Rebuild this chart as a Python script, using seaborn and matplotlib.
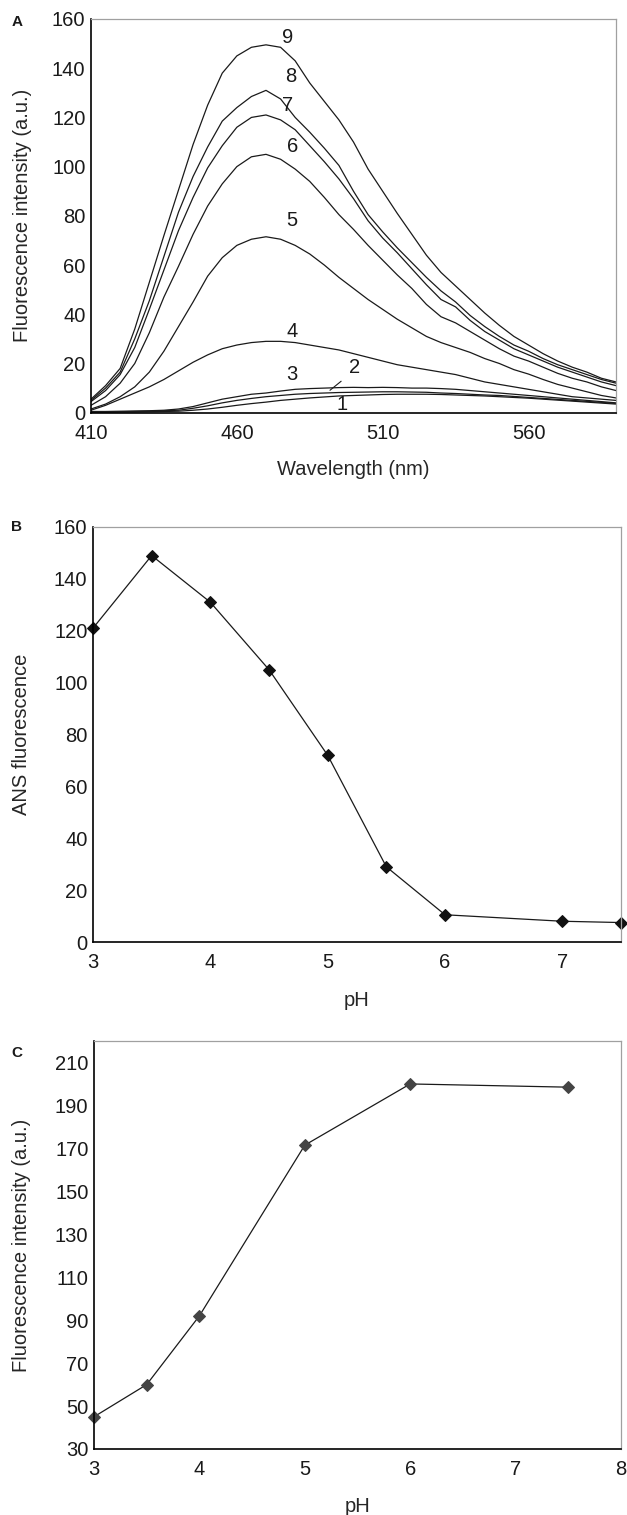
import numpy as np
import pandas as pd
import matplotlib
matplotlib.use("Agg")
import matplotlib.pyplot as plt
import seaborn as sns

# =-=-=-=-=-=-=-=-=-=-=-=-=-=-=-=-=-=-=-=-=-=-=-=-=-=-=
# Data
#
wavelength = list(range(410, 591, 5))

curve_9 = [5.5, 11, 18, 34, 53, 72, 90.5, 109, 125, 138, 145, 148.5, 149.5, 148.5, 143, 134,
           126.5, 119, 110, 99, 90, 81, 72.5, 64, 57, 51.5, 46, 40.5, 35.5, 31, 27.5, 24, 21,
           18.5, 16.5, 14, 12.5]
curve_8 = [5, 10, 16.5, 30, 45.5, 63.5, 81.5, 96, 108, 118.5, 124, 128.5, 131, 127.5, 120, 114,
           107.5, 100.5, 90, 80.5, 73.5, 67, 61, 55, 49.5, 45, 39.5, 35, 31, 27.5, 25, 22, 19.5,
           17.5, 15.5, 13.5, 12]
curve_7 = [4.5, 9, 15.5, 26.5, 42, 58, 74, 87.5, 99.5, 108.5, 116, 120, 121, 119, 115, 108.5,
           102, 95, 87, 78, 71, 65, 58.5, 52, 46, 43, 37.5, 33, 29.5, 26, 23.5, 21, 18.5, 16.5,
           14.5, 12.5, 11]
curve_6 = [3, 6.5, 12, 20, 32.5, 47, 59.5, 72.5, 84, 93, 100, 104, 105, 103, 99, 94, 87.5, 80.5,
           74.5, 68, 62, 56, 50.5, 44, 39, 36.5, 33, 29.5, 26, 23, 21, 18.5, 16, 14, 12.5, 10.5, 9]
curve_5 = [1.5, 3.5, 6.5, 10.5, 16.5, 25, 35, 45, 55.5, 63, 68, 70.5, 71.5, 70.5, 68, 64.5, 60,
           55, 50.5, 46, 42, 38, 34.5, 31, 28.5, 26.5, 24.5, 22, 20, 17.5, 15.7, 13.5, 11.5, 10,
           8.5, 7, 6]
curve_4 = [1, 3, 5.5, 8, 10.5, 13.5, 17, 20.5, 23.5, 26, 27.5, 28.5, 29, 29, 28.5, 27.5, 26.5,
           25.5, 24, 22.5, 21, 19.5, 18.5, 17.5, 16.5, 15.5, 14, 12.5, 11.5, 10.5, 9.5, 8.5, 7.5,
           6.5, 6, 5.5, 5]
curve_3 = [0.5, 0.5, 0.6, 0.7, 0.8, 1, 1.5, 2.5, 4, 5.5, 6.5, 7.5, 8, 8.8, 9.5, 9.8, 10, 10.2,
           10.3, 10.2, 10.3, 10.2, 10, 10, 9.8, 9.5, 9, 8.5, 8, 7.5, 7, 6.5, 6, 5.5, 5, 4.5, 4]
curve_2 = [0.3, 0.3, 0.4, 0.5, 0.6, 0.8, 1, 1.8, 2.8, 4, 5, 5.8, 6.5, 7, 7.5, 7.8, 8, 8.2, 8.3,
           8.4, 8.5, 8.5, 8.4, 8.3, 8, 7.8, 7.5, 7.2, 7, 6.6, 6.2, 5.8, 5.4, 5, 4.6, 4.2, 3.8]
curve_1 = [0.2, 0.2, 0.3, 0.3, 0.4, 0.5, 0.6, 1, 1.5, 2.2, 3, 3.7, 4.3, 5, 5.5, 6, 6.4, 6.8, 7,
           7.2, 7.4, 7.5, 7.5, 7.5, 7.4, 7.2, 7, 6.8, 6.5, 6.2, 5.9, 5.5, 5.1, 4.7, 4.3, 3.9, 3.5]

curves = {'1': curve_1, '2': curve_2, '3': curve_3, '4': curve_4, '5': curve_5,
          '6': curve_6, '7': curve_7, '8': curve_8, '9': curve_9}

# curve label: (wavelength, value) where the number sits
label_pos = {'9': (477.5, 152.5), '8': (478.5, 136.5), '7': (477.5, 125), '6': (479, 108),
             '5': (479, 78), '4': (479, 33), '3': (479, 15.5), '2': (500.5, 18.5), '1': (496, 3.5)}

ph_b  = [3, 3.5, 4, 4.5, 5, 5.5, 6, 7, 7.5]
ans_b = [121, 149, 131, 105, 72, 29, 10.5, 8, 7.5]

ph_c  = [3, 3.5, 4, 5, 6, 7.5]
int_c = [45, 60, 92, 171.5, 200, 198.5]


# =-=-=-=-=-=-=-=-=-=-=-=-=-=-=-=-=-=-=-=-=-=-=-=-=-=-=
# Style
#
sns.set_style('white')
plt.rcParams['font.family'] = ['Liberation Sans', 'DejaVu Sans']
plt.rcParams['font.size'] = 14.5

FS = 14.5
W, H = 627, 1515
fig = plt.figure(figsize=(W / 100, H / 100), dpi=100)


def rect(l, r, t, b):
    return [l / W, 1 - b / H, (r - l) / W, (b - t) / H]


def style_axes(ax):
    for side in ['left', 'bottom']:
        ax.spines[side].set_color('black')
        ax.spines[side].set_linewidth(1.2)
    for side in ['top', 'right']:
        ax.spines[side].set_color('#a0a0a0')
        ax.spines[side].set_linewidth(0.9)
    ax.tick_params(direction='in', length=5, width=0.9, color='black',
                   labelsize=FS, labelcolor='#1a1a1a', top=False, right=False)
    ax.tick_params(axis='x', pad=8)
    ax.tick_params(axis='y', pad=4)
    ax.xaxis.label.set_va('center')
    ax.yaxis.label.set_va('center')


# =-=-=-=-=-=-=-=-=-=-=-=-=-=-=-=-=-=-=-=-=-=-=-=-=-=-=
# Panel A
#
df_a = pd.DataFrame([(wl, name, v) for name, vals in curves.items()
                     for wl, v in zip(wavelength, vals)],
                    columns=['Wavelength', 'Curve', 'Intensity'])

axA = fig.add_axes(rect(91, 616, 19, 412.7))
sns.lineplot(data=df_a, x='Wavelength', y='Intensity', hue='Curve',
             palette=['#1a1a1a'] * 9, linewidth=0.9, legend=False, ax=axA)
for name, (x, y) in label_pos.items():
    axA.text(x, y, name, ha='center', va='center', fontsize=FS, color='#1a1a1a')
axA.annotate('', xy=(491.2, 8.4), xytext=(496.5, 13.5),
             arrowprops=dict(arrowstyle='-', color='#1a1a1a', lw=0.8))
axA.set_xlim(410, 590)
axA.set_ylim(0, 160)
axA.set_xticks([410, 460, 510, 560])
axA.set_yticks(range(0, 161, 20))
axA.set_xlabel('Wavelength (nm)', fontsize=FS)
axA.set_ylabel('Fluorescence intensity (a.u.)', fontsize=FS)
style_axes(axA)
axA.xaxis.set_label_coords(0.5, -0.145)
axA.yaxis.set_label_coords(-0.131, 0.5)


# =-=-=-=-=-=-=-=-=-=-=-=-=-=-=-=-=-=-=-=-=-=-=-=-=-=-=
# Panel B
#
axB = fig.add_axes(rect(93, 621, 527, 942))
sns.lineplot(x=ph_b, y=ans_b, color='#1a1a1a', linewidth=0.9, marker='D',
             markersize=6.5, markeredgecolor='#111111', markerfacecolor='#111111',
             ax=axB, clip_on=False)
axB.set_xlim(3, 7.5)
axB.set_ylim(0, 160)
axB.set_xticks([3, 4, 5, 6, 7])
axB.set_yticks(range(0, 161, 20))
axB.set_xlabel('pH', fontsize=FS)
axB.set_ylabel('ANS fluorescence', fontsize=FS)
style_axes(axB)
axB.xaxis.set_label_coords(0.5, -0.14)
axB.yaxis.set_label_coords(-0.135, 0.5)


# =-=-=-=-=-=-=-=-=-=-=-=-=-=-=-=-=-=-=-=-=-=-=-=-=-=-=
# Panel C
#
axC = fig.add_axes(rect(94, 621, 1041, 1449))
sns.lineplot(x=ph_c, y=int_c, color='#1a1a1a', linewidth=0.9, marker='D',
             markersize=6.5, markeredgecolor='#444444', markerfacecolor='#444444',
             ax=axC, clip_on=False)
axC.set_xlim(3, 8)
axC.set_ylim(30, 220)
axC.set_xticks(range(3, 9))
axC.set_yticks(range(30, 211, 20))
axC.set_xlabel('pH', fontsize=FS)
axC.set_ylabel('Fluorescence intensity (a.u.)', fontsize=FS)
style_axes(axC)
axC.xaxis.set_label_coords(0.5, -0.142)
axC.yaxis.set_label_coords(-0.137, 0.5)


# Panel letters
for letter, y in [('A', 21.7), ('B', 527), ('C', 1053)]:
    fig.text(17 / W, 1 - y / H, letter, ha='center', va='center',
             fontsize=11, fontweight='bold', color='#1a1a1a')

fig.savefig('out.png', dpi=100, facecolor='white')
